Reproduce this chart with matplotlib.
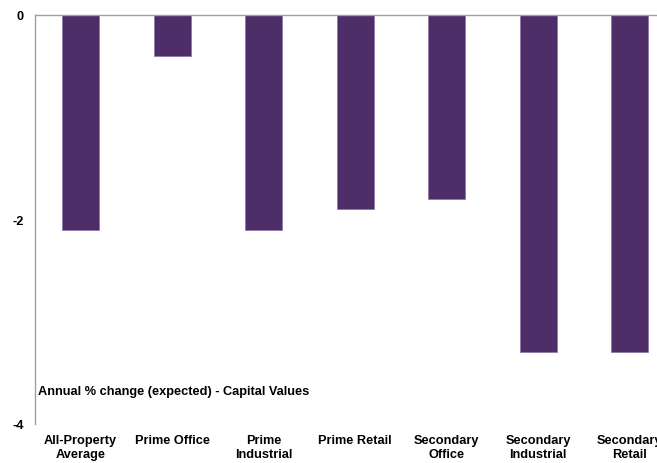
import matplotlib
matplotlib.use("Agg")
import matplotlib.pyplot as plt
import numpy as np

plt.rcParams['font.family'] = ['Liberation Sans', 'DejaVu Sans']

categories = ["All-Property\nAverage", "Prime Office", "Prime\nIndustrial", "Prime Retail",
              "Secondary\nOffice", "Secondary\nIndustrial", "Secondary\nRetail"]
values = [-2.1, -0.4, -2.1, -1.9, -1.8, -3.3, -3.3]
y_ticks = [0, -2, -4]
y_tick_labels = ["0", "-2", "-4"]
caption = "Annual % change (expected) - Capital Values"

fig = plt.figure(figsize=(6.57, 4.64), dpi=100)
ax = fig.add_axes([35 / 657, 39 / 464, 640.5 / 657, 409 / 464])

x = np.arange(len(categories))
ax.bar(x, values, width=0.40, color="#4E2E69", edgecolor="#8a73a3", linewidth=0.5, zorder=2)

ax.set_xlim(-0.5, len(categories) - 0.5)
ax.set_ylim(-4, 0)

ax.set_yticks(y_ticks)
ax.set_yticklabels(y_tick_labels, fontsize=9.2, fontweight="bold")
ax.set_xticks(x)
ax.set_xticklabels(categories, fontsize=9.2, fontweight="bold", linespacing=1.3)
ax.tick_params(axis="y", length=0, pad=8)
ax.tick_params(axis="x", length=0, pad=7)

for side in ("right", "bottom"):
    ax.spines[side].set_visible(False)
for side in ("left", "top"):
    ax.spines[side].set_color("#a0a0a0")
    ax.spines[side].set_linewidth(1.0)

ax.text(0.005, 0.08, caption, transform=ax.transAxes, fontsize=9.2, fontweight="bold",
        ha="left", va="center")

fig.savefig("out.png", dpi=100)
